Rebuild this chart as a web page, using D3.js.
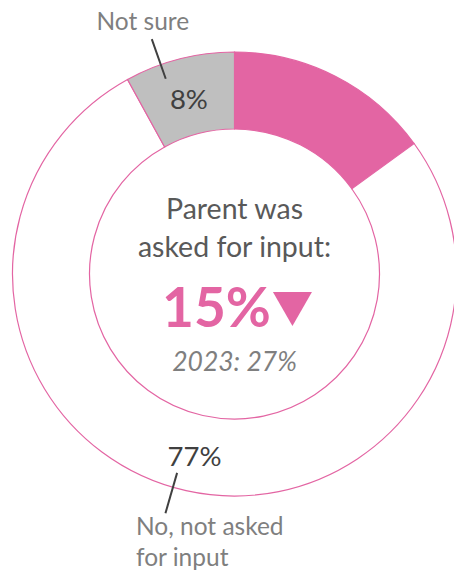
<!DOCTYPE html>
<html>
<head>
<meta charset="utf-8">
<script src="https://cdn.jsdelivr.net/npm/d3@7"></script>
<style>
  html, body { margin: 0; padding: 0; background: #fff; }
  svg { display: block; font-family: Lato, "Open Sans", sans-serif; }
</style>
</head>
<body>
<svg id="chart" width="454" height="571"></svg>
<script>
// Survey responses, shares in percent (clockwise from 12 o'clock)
const categories = ["Parent was asked for input", "No, not asked for input", "Not sure"];
const values = [15, 77, 8];
const fills = ["#E365A3", "#FFFFFF", "#BFBFBF"];
const priorYear = "2023";
const priorValue = 27;
const outerLabels = [null, ["No, not asked", "for input"], ["Not sure"]];

const width = 454, height = 571;
const cx = 234.5, cy = 274;
const rOuter = 222, rInner = 145;
const pink = "#E365A3";

const svg = d3.select("#chart");
const g = svg.append("g").attr("transform", `translate(${cx},${cy})`);

const data = categories.map((c, i) => ({ category: c, value: values[i], fill: fills[i], outer: outerLabels[i] }));
const pie = d3.pie().value(d => d.value).sort(null);
const arcs = pie(data);
const arc = d3.arc().innerRadius(rInner).outerRadius(rOuter);

g.selectAll("path.slice")
  .data(arcs)
  .join("path")
  .attr("class", "slice")
  .attr("d", arc)
  .attr("fill", d => d.data.fill)
  .attr("stroke", pink)
  .attr("stroke-width", 1.2);

// Percentage labels inside the ring (all but the highlighted slice)
g.selectAll("text.pct")
  .data(arcs.filter((d, i) => i > 0))
  .join("text")
  .attr("class", "pct")
  .attr("x", d => arc.centroid(d)[0])
  .attr("y", d => arc.centroid(d)[1] + 2)
  .attr("text-anchor", "middle")
  .attr("dominant-baseline", "central")
  .attr("font-size", 27.5)
  .attr("fill", "#404040")
  .text(d => d.data.value + "%");

// Leader lines and category names outside the ring
const leaderShift = { 1: 3.5, 2: -5 };   // degrees from slice centroid
const polar = (a, r) => [r * Math.sin(a), -r * Math.cos(a)];
arcs.forEach((d, i) => {
  if (!d.data.outer) return;
  const mid = (d.startAngle + d.endAngle) / 2 + leaderShift[i] * Math.PI / 180;
  const p0 = polar(mid, 207), p1 = polar(mid, 249);
  g.append("line")
    .attr("x1", p0[0]).attr("y1", p0[1])
    .attr("x2", p1[0]).attr("y2", p1[1])
    .attr("stroke", "#404040")
    .attr("stroke-width", 2);
  const lines = d.data.outer;
  const below = p1[1] > 0;
  const t = g.append("text")
    .attr("font-size", 24.5)
    .attr("fill", "#7F7F7F")
    .attr("text-anchor", below ? "start" : "middle");
  lines.forEach((ln, k) => {
    t.append("tspan")
      .attr("x", below ? p1[0] - 29.5 : p1[0] - 9)
      .attr("y", below ? p1[1] + 22 + k * 31 : p1[1] - 9)
      .text(ln);
  });
});

// Centre headline
const centre = g.append("g").attr("fill", "#595959").attr("text-anchor", "middle");
centre.append("text").attr("y", -55).attr("font-size", 28.5).text("Parent was");
centre.append("text").attr("y", -17).attr("font-size", 28.5).text("asked for input:");

const head = g.append("text")
  .attr("y", 53)
  .attr("font-size", 55)
  .attr("font-weight", "bold")
  .attr("fill", pink)
  .attr("text-anchor", "middle")
  .attr("x", -18)
  .text(values[0] + "%");

const hb = head.node().getBBox();
// Down arrow: current share is below last year
const triW = 39, triH = 34;
const tx = hb.x + hb.width + 2;
g.append("path")
  .attr("d", `M${tx},${53 - triH - 1}L${tx + triW},${53 - triH - 1}L${tx + triW / 2},${52}Z`)
  .attr("fill", values[0] < priorValue ? pink : "none");

g.append("text")
  .attr("y", 97)
  .attr("text-anchor", "middle")
  .attr("font-size", 26.5)
  .attr("font-style", "italic")
  .attr("fill", "#7F7F7F")
  .text(`${priorYear}: ${priorValue}%`);
</script>
</body>
</html>
